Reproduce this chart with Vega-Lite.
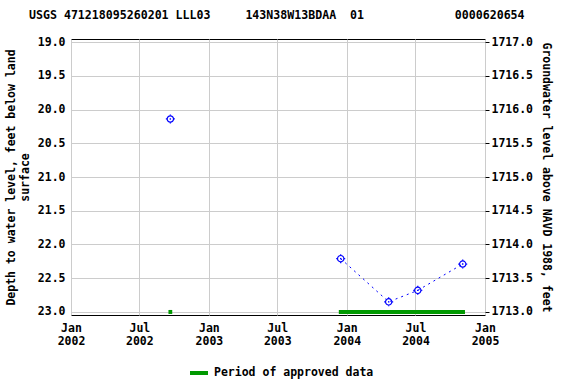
{
  "$schema": "https://vega.github.io/schema/vega-lite/v6.json",
  "width": 414,
  "height": 276,
  "autosize": {"type": "none"},
  "padding": {"left": 71, "top": 39, "right": 91, "bottom": 69},
  "background": "white",
  "title": {
    "text": "USGS 471218095260201 LLL03\u00a0\u00a0\u00a0\u00a0\u00a0143N38W13BDAA\u00a0\u00a001\u00a0\u00a0\u00a0\u00a0\u00a0\u00a0\u00a0\u00a0\u00a0\u00a0\u00a0\u00a0\u00a00000620654",
    "anchor": "start",
    "frame": "group",
    "dx": -42,
    "offset": 14,
    "font": "DejaVu Sans Mono",
    "fontSize": 11.6,
    "fontWeight": "bold",
    "color": "black"
  },
  "config": {
    "view": {"stroke": "black", "strokeWidth": 1},
    "axis": {
      "labelFont": "DejaVu Sans Mono",
      "labelFontSize": 11.5,
      "labelFontWeight": "bold",
      "labelColor": "black",
      "titleFont": "DejaVu Sans Mono",
      "titleFontSize": 11.5,
      "titleFontWeight": "bold",
      "titleColor": "black",
      "gridColor": "#cccccc",
      "gridWidth": 1,
      "tickColor": "black",
      "domainColor": "black"
    },
    "legend": {
      "labelFont": "DejaVu Sans Mono",
      "labelFontSize": 11.5,
      "labelFontWeight": "bold",
      "labelColor": "black"
    }
  },
  "layer": [
    {
      "encoding": {
        "x": {
          "field": "date", "type": "temporal",
          "scale": {"domain": [{"year": 2002, "month": 1, "date": 1}, {"year": 2005, "month": 1, "date": 1}], "nice": false},
          "axis": {
            "title": null,
            "grid": true,
            "ticks": false,
            "tickCount": {"interval": "month", "step": 6},
            "labelExpr": "[timeFormat(datum.value, '%b'), timeFormat(datum.value, '%Y')]",
            "labelLineHeight": 13,
            "labelPadding": 7,
            "labelFlush": false,
            "labelOverlap": false,
            "domain": false
          }
        },
        "y": {
          "field": "depth", "type": "quantitative",
          "scale": {"domain": [18.955, 23.045], "reverse": true, "nice": false, "zero": false},
          "axis": {
            "title": ["Depth to water level, feet below land", "surface"],
            "values": [19, 19.5, 20, 20.5, 21, 21.5, 22, 22.5, 23],
            "format": ".1f",
            "grid": true,
            "ticks": false,
            "labelPadding": 6,
            "labelOverlap": false,
            "titlePadding": 7,
            "domain": false
          }
        }
      },
      "layer": [
        {
          "data": {
            "values": [
              {"date": "2002-09-16T00:00:00", "end": "2002-09-26T00:00:00", "depth": 23, "label": "Period of approved data"},
              {"date": "2003-12-11T00:00:00", "end": "2004-11-09T00:00:00", "depth": 23, "label": "Period of approved data"}
            ]
          },
          "mark": {"type": "rule", "strokeWidth": 4},
          "encoding": {
            "x2": {"field": "end"},
            "color": {
              "field": "label", "type": "nominal",
              "scale": {"range": ["#009900"]},
              "legend": {
                "title": null,
                "orient": "none",
                "legendX": 117,
                "legendY": 323,
                "symbolType": "stroke",
                "symbolStrokeWidth": 4,
                "symbolSize": 324,
                "labelOffset": 4
              }
            }
          }
        },
        {
          "data": {"name": "obs"},
          "mark": {"type": "line", "color": "blue", "strokeWidth": 1, "strokeDash": [2, 4]},
          "encoding": {
            "detail": {"field": "seg", "type": "nominal"}
          }
        },
        {
          "data": {"name": "obs"},
          "mark": {"type": "point", "shape": "circle", "color": "blue", "filled": false, "strokeWidth": 1.2, "size": 40, "opacity": 1}
        },
        {
          "data": {"name": "obs"},
          "mark": {"type": "point", "shape": "M-1,0H-0.75M0.75,0H1M0,-1V-0.75M0,0.75V1", "color": "blue", "filled": false, "strokeWidth": 1.2, "size": 81, "opacity": 1}
        },
        {
          "data": {"name": "obs"},
          "mark": {"type": "point", "shape": "square", "color": "blue", "filled": true, "size": 2, "opacity": 1}
        }
      ]
    },
    {
      "data": {"name": "obs"},
      "mark": {"type": "point", "opacity": 0},
      "encoding": {
        "x": {"field": "date", "type": "temporal"},
        "y": {
          "field": "elev", "type": "quantitative",
          "scale": {"domain": [1712.955, 1717.045], "nice": false, "zero": false},
          "axis": {
            "orient": "right",
            "title": "Groundwater level above NAVD 1988, feet",
            "values": [1713, 1713.5, 1714, 1714.5, 1715, 1715.5, 1716, 1716.5, 1717],
            "format": ".1f",
            "grid": false,
            "tickSize": 4,
            "labelPadding": 2,
            "labelOverlap": false,
            "titlePadding": 8,
            "domain": false
          }
        }
      }
    }
  ],
  "datasets": {
    "obs": [
      {"date": "2002-09-21T00:00:00", "depth": 20.14, "elev": 1715.86, "seg": "a"},
      {"date": "2003-12-16T00:00:00", "depth": 22.21, "elev": 1713.79, "seg": "b"},
      {"date": "2004-04-21T00:00:00", "depth": 22.85, "elev": 1713.15, "seg": "b"},
      {"date": "2004-07-07T00:00:00", "depth": 22.68, "elev": 1713.32, "seg": "b"},
      {"date": "2004-11-03T00:00:00", "depth": 22.29, "elev": 1713.71, "seg": "b"}
    ]
  },
  "resolve": {"scale": {"y": "independent"}}
}
